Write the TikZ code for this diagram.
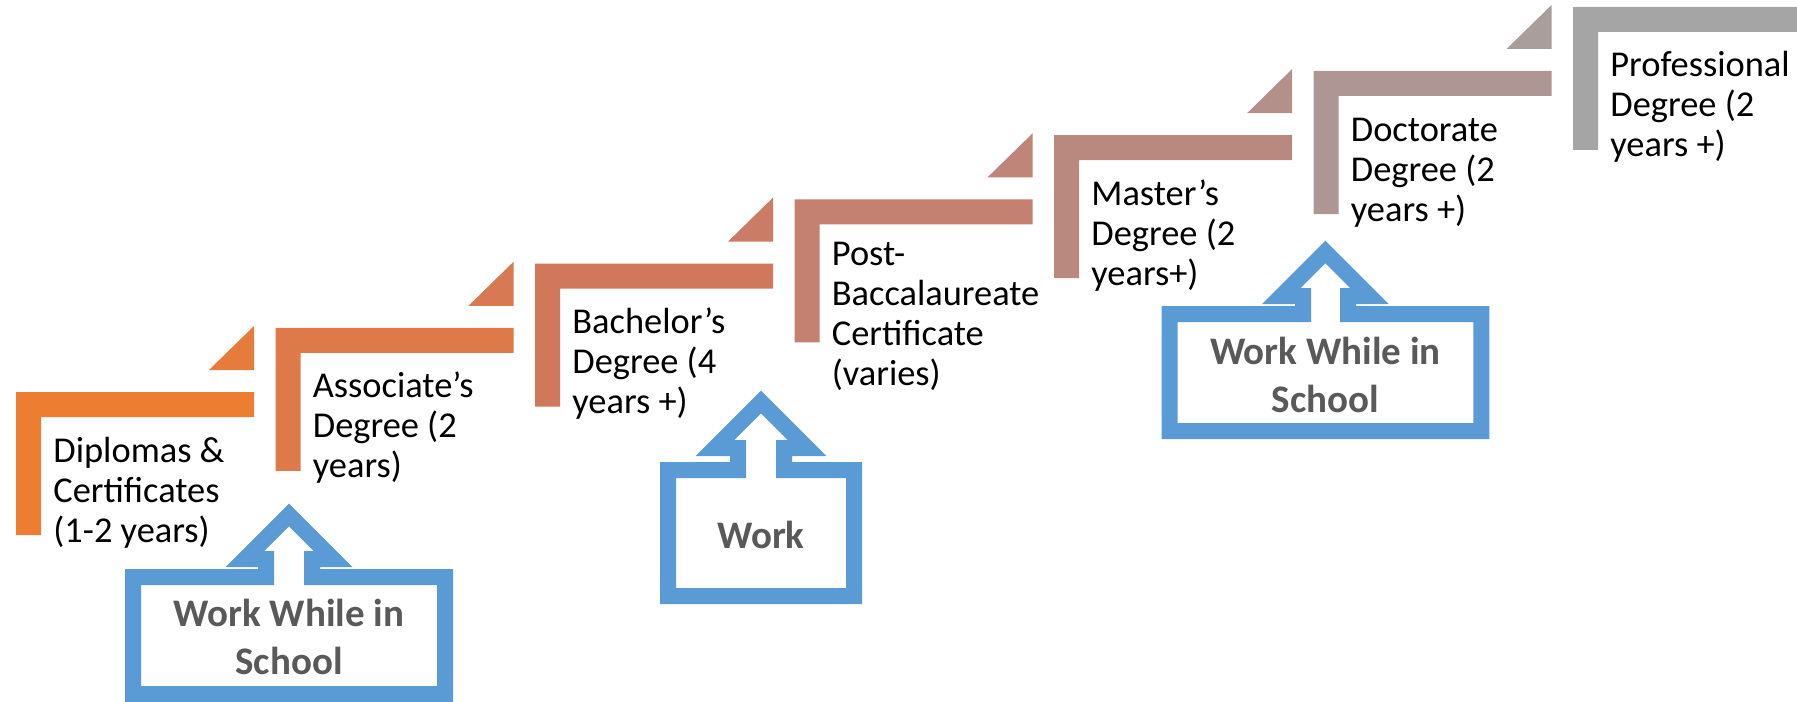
\documentclass[tikz,border=0pt]{standalone}
\usepackage{fontspec}
\setmainfont{Carlito}
\usepackage{tikz}

\definecolor{stepA}{RGB}{237,125,49}
\definecolor{stepB}{RGB}{222,122,74}
\definecolor{stepC}{RGB}{209,120,92}
\definecolor{stepD}{RGB}{196,128,112}
\definecolor{stepE}{RGB}{185,137,128}
\definecolor{stepF}{RGB}{174,150,149}
\definecolor{stepG}{RGB}{165,165,165}
\definecolor{callblue}{HTML}{5B9BD5}
\definecolor{workgray}{HTML}{595959}

\begin{document}
\begin{tikzpicture}[x=0.5pt,y=-0.5pt,
    steptext/.style={anchor=base west, inner sep=0pt, align=left, font=\fontsize{18.2}{20}\selectfont},
    callout/.style={draw=callblue, line width=8pt, fill=white},
    worktext/.style={align=center, inner sep=0pt, text=workgray, font=\bfseries\fontsize{19.5}{24.3}\selectfont}]

      \useasboundingbox (0,0) rectangle (1797,701);

      % steps
      \fill[stepA] (16,392) -- ++(238,0) -- ++(0,25) -- ++(-213,0) -- ++(0,118) -- ++(-25,0) -- cycle;
      \fill[stepB] (275.5,327.8) -- ++(238,0) -- ++(0,25) -- ++(-213,0) -- ++(0,118) -- ++(-25,0) -- cycle;
      \fill[stepC] (535,263.6) -- ++(238,0) -- ++(0,25) -- ++(-213,0) -- ++(0,118) -- ++(-25,0) -- cycle;
      \fill[stepD] (794.5,199.4) -- ++(238,0) -- ++(0,25) -- ++(-213,0) -- ++(0,118) -- ++(-25,0) -- cycle;
      \fill[stepE] (1054,135.2) -- ++(238,0) -- ++(0,25) -- ++(-213,0) -- ++(0,118) -- ++(-25,0) -- cycle;
      \fill[stepF] (1313.5,71) -- ++(238,0) -- ++(0,25) -- ++(-213,0) -- ++(0,118) -- ++(-25,0) -- cycle;
      \fill[stepG] (1573,6.8) -- ++(238,0) -- ++(0,25) -- ++(-213,0) -- ++(0,118) -- ++(-25,0) -- cycle;

      \fill[stepA!50!stepB] (254,370) -- ++(0,-44) -- ++(-45,44) -- cycle;
      \fill[stepB!50!stepC] (513.5,305.8) -- ++(0,-44) -- ++(-45,44) -- cycle;
      \fill[stepC!50!stepD] (773,241.6) -- ++(0,-44) -- ++(-45,44) -- cycle;
      \fill[stepD!50!stepE] (1032.5,177.4) -- ++(0,-44) -- ++(-45,44) -- cycle;
      \fill[stepE!50!stepF] (1292,113.2) -- ++(0,-44) -- ++(-45,44) -- cycle;
      \fill[stepF!50!stepG] (1551.5,49) -- ++(0,-44) -- ++(-45,44) -- cycle;

      % anchored at the baseline of the last line
      \node[steptext] (diploma) at (53,542) {Diplomas \&\\Certificates\\(1-2 years)};
      \node[steptext] (associate) at (312.5,477.8) {Associate’s\\Degree (2\\years)};
      \node[steptext] (bachelor) at (572,413.6) {Bachelor’s\\Degree (4\\years +)};
      \node[steptext] (postbacc) at (831.5,385.4) {Post-\\Baccalaureate\\Certificate\\(varies)};
      \node[steptext] (master) at (1091,285.2) {Master’s\\Degree (2\\years+)};
      \node[steptext] (doctorate) at (1350.5,221) {Doctorate\\Degree (2\\years +)};
      \node[steptext] (professional) at (1610,156.8) {Professional\\Degree (2\\years +)};

      % work callouts
      \draw[callout] (133,694) -- (133,577) -- (266,577) -- (266,559) -- (245,559) -- (289,515)
        -- (333,559) -- (312,559) -- (312,577) -- (445,577) -- (445,694) -- cycle;
      \draw[callout] (668,596) -- (668,470) -- (738,470) -- (738,448) -- (715,448) -- (761,402)
        -- (807,448) -- (784,448) -- (784,470) -- (854,470) -- (854,596) -- cycle;
      \draw[callout] (1169.5,431) -- (1169.5,314) -- (1303,314) -- (1303,296) -- (1281.4,296) -- (1325.4,252)
        -- (1369.4,296) -- (1348,296) -- (1348,314) -- (1481.3,314) -- (1481.3,431) -- cycle;

      \node[worktext] (schoolwork) at (289,637) {Work While in\\School};
      \node[worktext] (work) at (761,535) {Work};
      \node[worktext] (gradwork) at (1325.4,375) {Work While in\\School};

\end{tikzpicture}
\end{document}
